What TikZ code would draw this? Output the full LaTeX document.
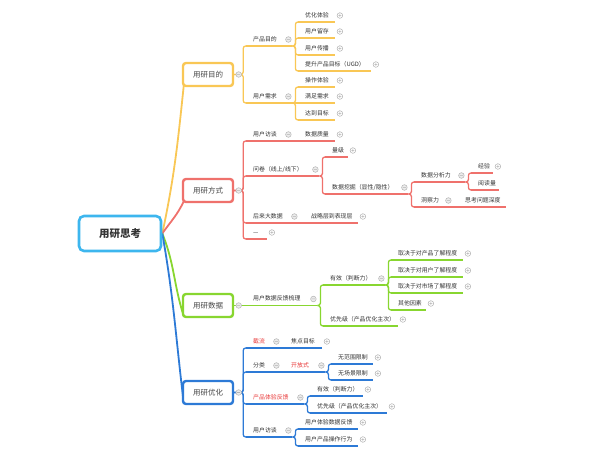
\documentclass[tikz,border=0pt]{standalone}
\usepackage{fontspec}
\usetikzlibrary{backgrounds}
\newfontfamily\cjk{Noto Sans CJK SC}
\definecolor{ink}{HTML}{333333}
\definecolor{hot}{HTML}{E83A3A}
\definecolor{sky}{HTML}{3DB6EE}
\definecolor{ylw}{HTML}{F9C755}
\definecolor{rd}{HTML}{EF716C}
\definecolor{grn}{HTML}{88D630}
\definecolor{blu}{HTML}{2D7AD6}
\colorlet{br}{ylw}
% fold / unfold buttons
\newcommand\boxfold[1]{\draw[tog,fill=gray!15] ([xshift=4.5pt]#1.east) circle (2.8pt) ++(-1.5pt,0) -- ++(3pt,0);}
\newcommand\foldmark[1]{\draw[tog,fill=gray!15] ([shift={(-4pt,6.5pt)}]#1.south east) circle (2.8pt) ++(-1.5pt,0) -- ++(3pt,0);}
\newcommand\unfoldmark[1]{\draw[tog,fill=white] ([shift={(4.5pt,6.5pt)}]#1.south east) circle (2.8pt) ++(-1.5pt,0) -- ++(3pt,0) ++(-1.5pt,-1.5pt) -- ++(0,3pt);}
\begin{document}
\begin{tikzpicture}[x=1pt,y=-1pt,
  root/.style={draw=sky, line width=2.6pt, rounded corners=5pt, fill=white,
    minimum width=82pt, minimum height=35pt, font=\cjk\fontsize{10.5}{12}\selectfont\bfseries, text=ink},
  branch/.style={draw=#1, line width=2.4pt, rounded corners=3pt, fill=white,
    minimum width=50pt, minimum height=23pt, font=\cjk\fontsize{7.5}{9}\selectfont, text=ink!90},
  trunk/.style={draw=#1, line width=1.8pt},
  topic/.style={anchor=south west, inner xsep=7pt, inner ysep=3.5pt,
    /utils/exec={\pgfmathsetmacro\tw{#1-14}}, text width=\tw pt, align=left,
    text height=4.6pt, text depth=0.9pt, font=\cjk\fontsize{5.9}{6}\selectfont, text=ink,
    append after command={(\tikzlastnode.south west) edge[uline] (\tikzlastnode.south east)}},
  uline/.style={draw=br, line width=1.3pt},
  link/.style={draw=br, line width=1.3pt, rounded corners=2.5pt},
  elbow/.style={to path={-- ++(3pt,0) |- (\tikztotarget)}},
  boxelbow/.style={to path={-- ++(9pt,0) |- (\tikztotarget)}},
  tog/.style={draw=gray!60, line width=0.5pt}]
  \useasboundingbox (0,0) rectangle (600,454);

  \node[root] (root) at (120,233.5) {用研思考};

  % purpose
  \begin{scope}
    \colorlet{br}{ylw}
    \node[branch=ylw] (b1) at (208,74.5) {用研目的};
    \node[topic=46] (y1) at (246,46) {产品目的};
    \node[topic=37] (y11) at (298,22) {优化体验};
    \node[topic=37] (y12) at (298,38) {用户留存};
    \node[topic=37] (y13) at (298,55) {用户传播};
    \node[topic=73] (y14) at (298,71) {提升产品目标（UGD）};
    \node[topic=46] (y2) at (246,103) {用户需求};
    \node[topic=37] (y21) at (298,87) {操作体验};
    \node[topic=37] (y22) at (298,103) {满足需求};
    \node[topic=37] (y23) at (298,120) {达到目标};
    \foreach \c in {y1,y2} \draw[link] (b1.east) to[boxelbow] (\c.south west);
    \foreach \c in {y11,y12,y13,y14} \draw[link] (y1.south east) to[elbow] (\c.south west);
    \foreach \c in {y21,y23} \draw[link] (y2.south east) to[elbow] (\c.south west);
    \draw[link] (y2.south east) -- (y22.south west);
  \end{scope}

  % methods
  \begin{scope}
    \colorlet{br}{rd}
    \node[branch=rd] (b2) at (208,190.5) {用研方式};
    \node[topic=46] (r1) at (246,141) {用户访谈};
    \node[topic=37] (r11) at (298,141) {数据质量};
    \node[topic=73] (r2) at (246,176) {问卷（线上/线下）};
    \node[topic=23] (r21) at (325,157) {量级};
    \node[topic=83] (r22) at (325,194) {数据挖掘（显性/隐性）};
    \node[topic=51] (r221) at (414,182) {数据分析力};
    \node[topic=22] (r2211) at (471,173) {经验};
    \node[topic=28] (r2212) at (471,190) {阅读量};
    \node[topic=38] (r222) at (414,207) {洞察力};
    \node[topic=48] (r2221) at (458,207) {思考问题深度};
    \node[topic=52] (r3) at (246,223) {后来大数据};
    \node[topic=54] (r31) at (304,223) {战略层到表现层};
    \node[topic=21] (r4) at (246,239) {—};
    \foreach \c in {r1,r2,r3,r4} \draw[link] (b2.east) to[boxelbow] (\c.south west);
    \draw[link] (r1.south east) -- (r11.south west);
    \foreach \c in {r21,r22} \draw[link] (r2.south east) to[elbow] (\c.south west);
    \foreach \c in {r221,r222} \draw[link] (r22.south east) to[elbow] (\c.south west);
    \foreach \c in {r2211,r2212} \draw[link] (r221.south east) to[elbow] (\c.south west);
    \draw[link] (r222.south east) -- (r2221.south west);
    \draw[link] (r3.south east) -- (r31.south west);
  \end{scope}

  % data
  \begin{scope}
    \colorlet{br}{grn}
    \node[branch=grn] (b3) at (208,305.5) {用研数据};
    \node[topic=71] (g1) at (246,305.5) {用户数据反馈梳理};
    \node[topic=62] (g11) at (323,285) {有效（判断力）};
    \node[topic=72] (g111) at (391,260) {取决于对产品了解程度};
    \node[topic=72] (g112) at (391,277) {取决于对用户了解程度};
    \node[topic=72] (g113) at (391,293) {取决于对市场了解程度};
    \node[topic=35] (g114) at (391,310) {其他因素};
    \node[topic=75] (g12) at (323,326) {优先级（产品优化主次）};
    \draw[link] (b3.east) -- (g1.south west);
    \foreach \c in {g11,g12} \draw[link] (g1.south east) to[elbow] (\c.south west);
    \foreach \c in {g111,g112,g113,g114} \draw[link] (g11.south east) to[elbow] (\c.south west);
  \end{scope}

  % optimisation
  \begin{scope}
    \colorlet{br}{blu}
    \node[branch=blu] (b4) at (208,392.5) {用研优化};
    \node[topic=34, text=hot] (o1) at (246,348) {截流};
    \node[topic=38] (o11) at (284,348) {焦点目标};
    \node[topic=34] (o2) at (246,372) {分类};
    \node[topic=41, text=hot] (o21) at (284,372) {开放式};
    \node[topic=42] (o211) at (331,364) {无范围限制};
    \node[topic=42] (o212) at (331,380) {无场景限制};
    \node[topic=58, text=hot] (o3) at (246,404) {产品体验反馈};
    \node[topic=53] (o31) at (310,396) {有效（判断力）};
    \node[topic=77] (o32) at (310,413) {优先级（产品优化主次）};
    \node[topic=46] (o4) at (246,437) {用户访谈};
    \node[topic=60] (o41) at (298,429) {用户体验数据反馈};
    \node[topic=60] (o42) at (298,446) {用户产品操作行为};
    \foreach \c in {o1,o2,o3,o4} \draw[link] (b4.east) to[boxelbow] (\c.south west);
    \draw[link] (o1.south east) -- (o11.south west);
    \draw[link] (o2.south east) -- (o21.south west);
    \foreach \c in {o211,o212} \draw[link] (o21.south east) to[elbow] (\c.south west);
    \foreach \c in {o31,o32} \draw[link] (o3.south east) to[elbow] (\c.south west);
    \foreach \c in {o41,o42} \draw[link] (o4.south east) to[elbow] (\c.south west);
  \end{scope}

  % trunks from the root
  \begin{scope}[on background layer]
    \draw[trunk=ylw] (root.east) to[out=78,in=-96] ([shift={(2pt,2pt)}]b1.south west);
    \draw[trunk=rd] (root.east) to[out=55,in=-115] ([shift={(2pt,2pt)}]b2.south west);
    \draw[trunk=grn] (root.east) to[out=-68,in=108] ([shift={(2pt,2pt)}]b3.south west);
    \draw[trunk=blu] (root.east) to[out=-80,in=97] ([shift={(2pt,2pt)}]b4.south west);
  \end{scope}

  % buttons
  \foreach \n in {b1,b2,b3,b4} \boxfold{\n};
  \foreach \n in {y1,y2,r1,r2,r22,r221,r222,r3,g1,g11,o1,o2,o21,o3,o4} \foldmark{\n};
  \foreach \n in {y11,y12,y13,y14,y21,y22,y23,r11,r21,r2211,r31,r4,g111,g112,g113,g114,g12,o11,o211,o212,o31,o32,o41,o42} \unfoldmark{\n};
\end{tikzpicture}
\end{document}
